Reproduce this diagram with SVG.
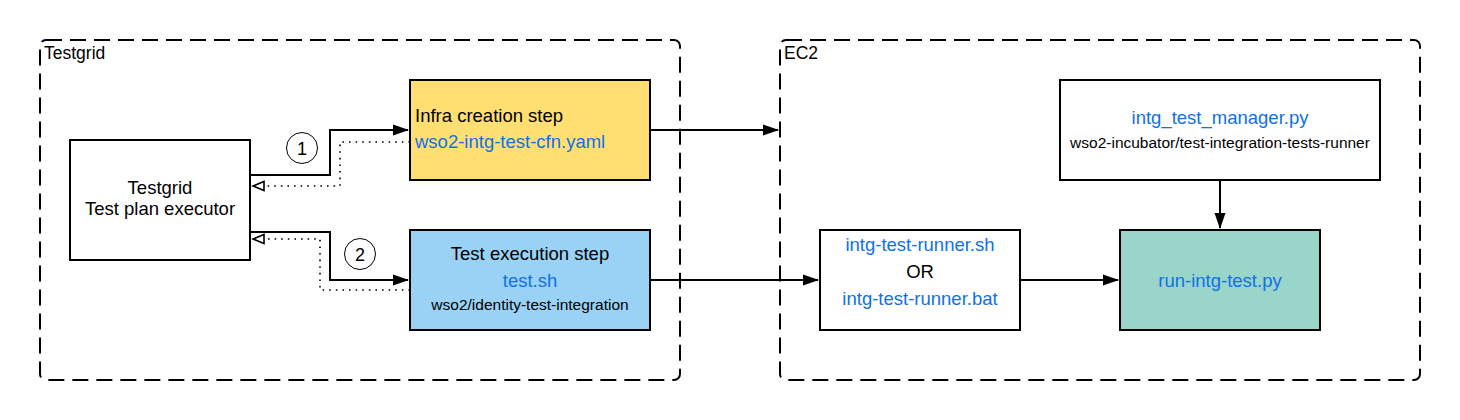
<svg xmlns="http://www.w3.org/2000/svg" width="1460" height="420" viewBox="0 0 1460 420">
<defs>
<style>
text{font-family:"Liberation Sans",Arial,sans-serif;fill:#000}
.c{fill:none;stroke:#000;stroke-width:2;stroke-dasharray:16 8}
.b{stroke:#000;stroke-width:2}
.blue{fill:#1071e5}
.l{fill:none;stroke:#000;stroke-width:2}
.d{fill:none;stroke:#000;stroke-width:1.6;stroke-dasharray:1.6 5}
.t{font-size:18.5px}
.s{font-size:15.5px}
</style>
<marker id="fa" viewBox="0 0 16 12" refX="15" refY="6" markerWidth="16" markerHeight="12" markerUnits="userSpaceOnUse" orient="auto">
<path d="M0,0.5 L16,6 L0,11.5 Z" fill="#000"/>
</marker>
<marker id="oa" viewBox="0 0 14 12" refX="1" refY="6" markerWidth="14" markerHeight="12" markerUnits="userSpaceOnUse" orient="auto">
<path d="M12,6 L1,1.5 L1,10.5 Z" fill="#fff" stroke="#000" stroke-width="1.6"/>
</marker>
</defs>
<rect width="1460" height="420" fill="#fff"/>
<g id="testgrid-container">
<rect class="c" x="40" y="40" width="640" height="340" rx="6"/>
<text x="44" y="59" font-size="17.5">Testgrid</text>
</g>
<g id="ec2-container">
<rect class="c" x="780" y="40" width="640" height="340" rx="6"/>
<text x="784" y="59" font-size="17.5">EC2</text>
</g>
<g id="connectors">
<polyline class="l" points="250,175 330,175 330,130 408,130" marker-end="url(#fa)"/>
<polyline class="d" points="410,142 340,142 340,186 264,186" marker-end="url(#oa)"/>
<polyline class="d" points="410,290 320,290 320,239 264,239" marker-end="url(#oa)"/>
<polyline class="l" points="250,232 330,232 330,280 408,280" marker-end="url(#fa)"/>
<line class="l" x1="650" y1="130" x2="778" y2="130" marker-end="url(#fa)"/>
<line class="l" x1="650" y1="280" x2="818" y2="280" marker-end="url(#fa)"/>
<line class="l" x1="1020" y1="280" x2="1118" y2="280" marker-end="url(#fa)"/>
<line class="l" x1="1220" y1="180" x2="1220" y2="228" marker-end="url(#fa)"/>
<g id="label-1"><circle cx="302" cy="148" r="15.5" fill="#fff" stroke="#000" stroke-width="1"/><text x="302" y="155" font-size="18" text-anchor="middle">1</text></g>
<g id="label-2"><circle cx="360" cy="254" r="15.5" fill="#fff" stroke="#000" stroke-width="1"/><text x="360" y="261" font-size="18" text-anchor="middle">2</text></g>
</g>
<g id="executor">
<rect class="b" x="70" y="140" width="180" height="120" fill="#fff"/>
<text x="160" y="194" class="t" text-anchor="middle">Testgrid</text>
<text x="160" y="215" class="t" text-anchor="middle">Test plan executor</text>
</g>
<g id="infra-step">
<rect class="b" x="410" y="80" width="240" height="100" fill="#ffdf71"/>
<text x="415" y="122" class="t">Infra creation step</text>
<text x="415" y="148" class="t blue">wso2-intg-test-cfn.yaml</text>
</g>
<g id="test-step">
<rect class="b" x="410" y="230" width="240" height="100" fill="#9ad2f5"/>
<text x="530" y="260" class="t" text-anchor="middle">Test execution step</text>
<text x="530" y="287" class="t blue" text-anchor="middle">test.sh</text>
<text x="530" y="310" class="s" text-anchor="middle">wso2/identity-test-integration</text>
</g>
<g id="test-manager">
<rect class="b" x="1060" y="80" width="320" height="100" fill="#fff"/>
<text x="1220" y="124" class="t blue" text-anchor="middle">intg_test_manager.py</text>
<text x="1220" y="148" class="s" text-anchor="middle">wso2-incubator/test-integration-tests-runner</text>
</g>
<g id="runner">
<rect class="b" x="820" y="230" width="200" height="100" fill="#fff"/>
<text x="920" y="251" class="t blue" text-anchor="middle">intg-test-runner.sh</text>
<text x="920" y="278" class="t" text-anchor="middle">OR</text>
<text x="920" y="305" class="t blue" text-anchor="middle">intg-test-runner.bat</text>
</g>
<g id="run-intg-test">
<rect class="b" x="1120" y="230" width="200" height="100" fill="#9ad5ca"/>
<text x="1220" y="287" class="t blue" text-anchor="middle">run-intg-test.py</text>
</g>
</svg>
